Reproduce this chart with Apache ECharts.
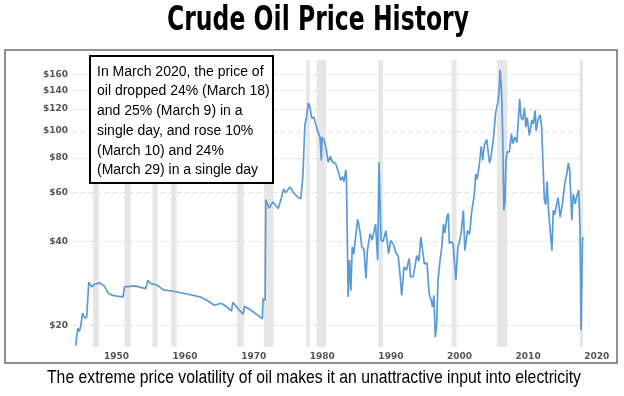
<!DOCTYPE html>
<html>
<head>
<meta charset="utf-8">
<script src="https://cdn.jsdelivr.net/npm/echarts@6/dist/echarts.min.js"></script>
<style>
html, body { margin: 0; padding: 0; background: #fff; }
#oil { width: 624px; height: 396px; }
</style>
</head>
<body>
<div id="oil"></div>
<script>
// crude oil price (inflation adjusted)
var years = [
  1946.4, 1946.5, 1946.7, 1946.9, 1947.1, 1947.4, 1947.7, 1948.0, 1948.3, 1948.7,
  1949.2, 1949.9, 1950.6, 1951.2, 1951.8, 1952.6, 1953.3, 1953.5, 1955.0, 1956.6,
  1956.9, 1957.3, 1958.2, 1959.2, 1960.6, 1962.6, 1964.5, 1965.5, 1966.6, 1967.6,
  1968.5, 1969.1, 1969.3, 1970.0, 1970.8, 1971.0, 1972.0, 1973.3, 1973.6, 1973.7,
  1974.0, 1974.1, 1974.6, 1975.1, 1975.9, 1976.3, 1976.7, 1977.0, 1977.3, 1977.6,
  1978.1, 1978.8, 1979.2, 1979.5, 1979.8, 1980.0, 1980.3, 1980.5, 1980.8, 1981.1,
  1981.4, 1981.7, 1982.0, 1982.2, 1982.3, 1982.6, 1982.9, 1983.2, 1983.5, 1983.8,
  1984.1, 1984.4, 1984.8, 1985.0, 1985.3, 1985.5, 1985.75, 1985.85, 1986.1, 1986.3,
  1986.5, 1986.7, 1986.9, 1987.3, 1987.5, 1987.8, 1988.1, 1988.4, 1988.7, 1988.9,
  1989.3, 1989.6, 1990.1, 1990.4, 1990.6, 1990.9, 1991.2, 1991.6, 1992.0, 1992.3,
  1992.7, 1993.1, 1993.4, 1993.7, 1993.9, 1994.25, 1994.6, 1995.0, 1995.2, 1995.6,
  1996.1, 1996.4, 1996.7, 1996.9, 1997.2, 1997.6, 1997.9, 1998.2, 1998.4, 1998.6,
  1998.8, 1999.0, 1999.2, 1999.5, 1999.75, 2000.0, 2000.2, 2000.5, 2000.7, 2000.85,
  2001.1, 2001.4, 2001.8, 2002.1, 2002.3, 2002.6, 2002.9, 2003.1, 2003.5, 2003.8,
  2004.1, 2004.5, 2004.7, 2004.9, 2005.2, 2005.5, 2005.7, 2005.96, 2006.3, 2006.7,
  2006.9, 2007.3, 2007.6, 2007.9, 2008.1, 2008.25, 2008.45, 2008.6, 2008.8, 2008.97,
  2009.1, 2009.3, 2009.6, 2009.9, 2010.1, 2010.4, 2010.7, 2011.1, 2011.3, 2011.55,
  2011.8, 2012.0, 2012.2, 2012.5, 2012.9, 2013.1, 2013.35, 2013.5, 2013.8, 2014.1,
  2014.3, 2014.7, 2014.9, 2015.1, 2015.3, 2015.5, 2015.8, 2016.0, 2016.2, 2016.5,
  2016.7, 2017.0, 2017.3, 2017.7, 2017.97, 2018.2, 2018.4, 2018.7, 2018.9, 2019.2,
  2019.4, 2019.7, 2019.9, 2020.05, 2020.25, 2020.33
];
var prices = [
  16.9, 17.9, 19.5, 19.0, 19.7, 22.1, 21.2, 21.4, 28.6, 27.5,
  28.1, 28.4, 27.6, 26.0, 25.6, 25.4, 25.3, 27.5, 27.7, 27.1,
  29.0, 28.3, 27.9, 26.8, 26.5, 25.9, 25.3, 24.6, 23.6, 24.0,
  23.2, 22.5, 24.2, 23.0, 21.9, 23.4, 22.6, 21.4, 21.1, 24.9,
  24.6, 56.5, 52.8, 55.6, 52.6, 56.5, 61.9, 60.0, 61.3, 62.9,
  60.2, 57.6, 57.1, 68.4, 105.3, 110.9, 126.3, 123.0, 110.9, 112.4,
  105.3, 99.0, 95.0, 78.3, 95.0, 92.7, 86.0, 77.1, 81.0, 77.1,
  77.1, 75.1, 69.6, 66.5, 68.4, 65.7, 72.3, 68.4, 25.3, 34.3,
  26.7, 38.3, 36.0, 43.8, 48.2, 43.8, 38.3, 37.5, 29.5, 37.1,
  42.7, 40.5, 46.2, 34.3, 77.1, 40.4, 40.0, 43.8, 36.2, 40.4,
  39.0, 36.2, 35.5, 29.8, 25.6, 32.4, 31.6, 34.8, 29.8, 30.0,
  35.6, 34.0, 41.5, 38.0, 33.3, 33.5, 26.0, 24.6, 23.3, 25.6,
  18.1, 20.0, 29.1, 34.3, 38.3, 46.2, 43.0, 49.0, 50.5, 39.3,
  40.0, 39.3, 29.1, 38.3, 39.5, 43.6, 51.8, 37.1, 43.8, 42.5,
  51.1, 59.3, 70.1, 67.0, 75.1, 88.0, 78.3, 89.2, 93.2, 76.7,
  80.0, 95.0, 116.6, 125.9, 136.9, 165.8, 140.3, 103.3, 51.8, 56.5,
  78.3, 84.2, 84.0, 97.8, 90.0, 95.0, 91.0, 130.2, 112.0, 109.5,
  121.1, 103.3, 112.0, 96.4, 109.5, 106.0, 118.6, 100.0, 110.9, 114.1,
  103.3, 56.5, 54.3, 65.7, 52.0, 51.8, 37.1, 51.8, 50.0, 54.7,
  57.6, 49.0, 54.0, 65.3, 70.1, 76.7, 72.0, 47.6, 59.3, 54.7,
  58.0, 61.3, 43.8, 19.2, 40.4, 41.5
];
// US recessions (grey bands)
var recessions = [
  [1948.9, 1949.8], [1953.5, 1954.4], [1957.6, 1958.3], [1960.3, 1961.1],
  [1969.9, 1970.9], [1973.8, 1975.2], [1980.0, 1980.5], [1981.5, 1982.9],
  [1990.5, 1991.2], [2001.2, 2001.9], [2007.8, 2009.3], [2019.85, 2020.33]
];
var yTicks = [20, 40, 60, 80, 100, 120, 140, 160];
var xTicks = [1950, 1960, 1970, 1980, 1990, 2000, 2010, 2020];

var titleText = "Crude Oil Price History";
var footText = "The extreme price volatility of oil makes it an unattractive input into electricity";
var noteLines = [
  "In March 2020, the price of",
  "oil dropped 24% (March 18)",
  "and 25% (March 9) in a",
  "single day, and rose 10%",
  "(March 10) and 24%",
  "(March 29) in a single day"
];

// squeeze text horizontally to a given width (stand-in for condensed fonts)
function squeeze(str, font, target) {
  var ctx = document.createElement("canvas").getContext("2d");
  ctx.font = font;
  return target / ctx.measureText(str).width;
}

var titleFont = 'bold 34px "DejaVu Sans"';
var footFont = '19px "Liberation Sans"';
var axisFont = { fontFamily: "DejaVu Sans", fontWeight: "bold", fontSize: 9, color: "#555" };

var myChart = echarts.init(document.getElementById("oil"));
var option = {
  backgroundColor: "#fff",
  animation: false,
  grid: { left: 73, right: 41, top: 60, bottom: 49 },
  xAxis: {
    type: "value",
    min: 1946,
    max: 2020.33,
    axisLine: { show: false },
    axisTick: { show: false },
    splitLine: { show: false },
    axisLabel: Object.assign({
      customValues: xTicks,
      margin: 5,
      padding: [0, 0, 0, 32],
      formatter: function (v) { return String(v); }
    }, axisFont)
  },
  yAxis: {
    type: "log",
    logBase: 10,
    min: 16.7,
    max: 180,
    axisLine: { show: false },
    axisTick: { show: false, customValues: yTicks },
    splitLine: { show: true, lineStyle: { color: "#dcdcdc", type: [4, 4], width: 1 } },
    axisLabel: Object.assign({
      customValues: yTicks,
      margin: 5,
      formatter: function (v) { return "$" + v; }
    }, axisFont)
  },
  series: [
    {
      type: "line",
      data: [],
      silent: true,
      z: 1,
      markArea: {
        silent: true,
        itemStyle: { color: "#e6e6e6" },
        data: recessions.map(function (r) { return [{ xAxis: r[0] }, { xAxis: r[1] }]; })
      }
    },
    {
      type: "line",
      z: 3,
      data: years.map(function (y, i) { return [y, prices[i]]; }),
      showSymbol: false,
      lineStyle: { color: "#5b9bd5", width: 1.7 },
      itemStyle: { color: "#5b9bd5" }
    }
  ],
  graphic: [
    {
      type: "text",
      x: 318,
      y: 21.5,
      scaleX: squeeze(titleText, titleFont, 302),
      style: { text: titleText, font: titleFont, fill: "#000", textAlign: "center", textVerticalAlign: "middle" }
    },
    {
      type: "rect",
      shape: { x: 5, y: 50, width: 612, height: 313 },
      style: { fill: "none", stroke: "#6d6d6d", lineWidth: 1.5 }
    },
    {
      type: "rect",
      z: 100,
      shape: { x: 90, y: 56, width: 183, height: 127 },
      style: { fill: "#fff", stroke: "#000", lineWidth: 2 }
    },
    {
      type: "text",
      z: 101,
      x: 97,
      y: 62,
      style: {
        text: noteLines.join("\n"),
        font: '14px "Liberation Sans"',
        lineHeight: 19.7,
        fill: "#000",
        textVerticalAlign: "top"
      }
    },
    {
      type: "text",
      x: 314,
      y: 378,
      scaleX: squeeze(footText, footFont, 534),
      style: { text: footText, font: footFont, fill: "#000", textAlign: "center", textVerticalAlign: "middle" }
    }
  ]
};
myChart.setOption(option);
</script>
</body>
</html>
